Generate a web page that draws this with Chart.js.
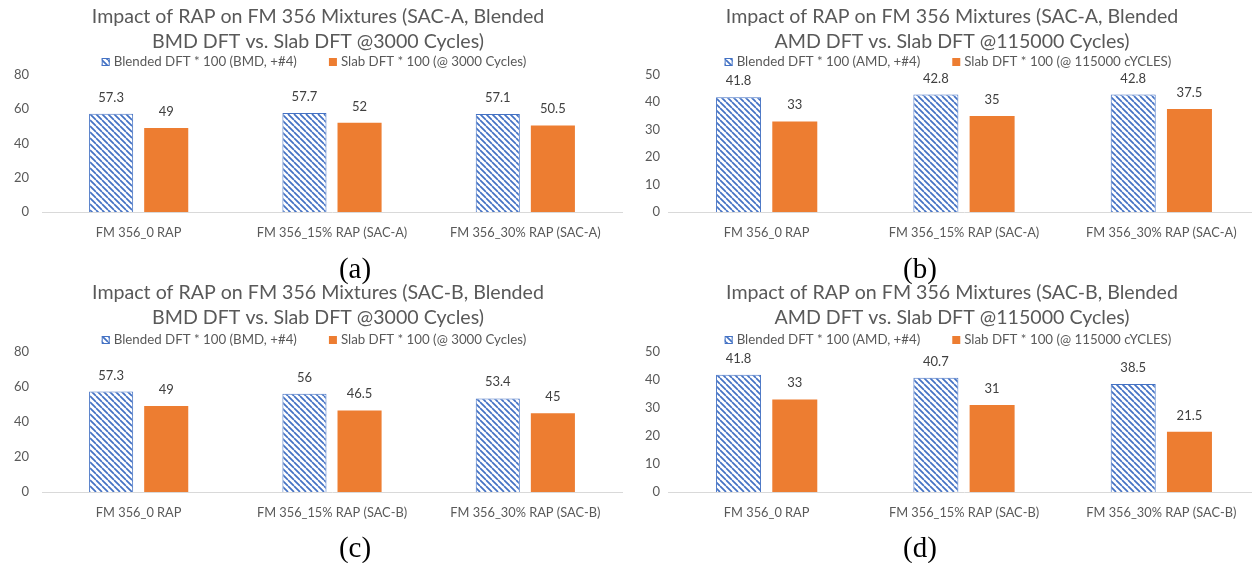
<!DOCTYPE html>
<html lang="en">
<head>
<meta charset="UTF-8">
<title>Impact of RAP on FM 356 Mixtures</title>
<script src="https://cdn.jsdelivr.net/npm/chart.js@4.4.0/dist/chart.umd.min.js"></script>
<style>
  html, body { margin: 0; padding: 0; background: #fff; overflow: hidden; }
  body { width: 1252px; height: 563px; position: relative; }
  canvas { position: absolute; }
  .caption {
    position: absolute;
    font-family: "Liberation Serif", "Times New Roman", serif;
    font-size: 29px;
    color: #000;
    transform: translate(-50%, -50%);
  }
</style>
</head>
<body>
<canvas id="chartA" width="640" height="245" style="left:0;top:0"></canvas>
<canvas id="chartB" width="640" height="245" style="left:630px;top:0"></canvas>
<canvas id="chartC" width="640" height="249" style="left:0;top:276px"></canvas>
<canvas id="chartD" width="640" height="249" style="left:630px;top:276px"></canvas>
<div class="caption" style="left:355px;top:268px">(a)</div>
<div class="caption" style="left:920px;top:268px">(b)</div>
<div class="caption" style="left:355px;top:547px">(c)</div>
<div class="caption" style="left:920px;top:547px">(d)</div>

<script>
    // mixtures on the x axis
    const categoriesA = ['FM 356_0 RAP', 'FM 356_15% RAP (SAC-A)', 'FM 356_30% RAP (SAC-A)'];
    const categoriesB = ['FM 356_0 RAP', 'FM 356_15% RAP (SAC-B)', 'FM 356_30% RAP (SAC-B)'];

    // DFT * 100 values
    const blendedA3000 = [57.3, 57.7, 57.1];
    const slabA3000 = [49, 52, 50.5];
    const blendedA115k = [41.8, 42.8, 42.8];
    const slabA115k = [33, 35, 37.5];
    const blendedB3000 = [57.3, 56, 53.4];
    const slabB3000 = [49, 46.5, 45];
    const blendedB115k = [41.8, 40.7, 38.5];
    const slabB115k = [33, 31, 21.5];

    const BLUE = '#4472C4';
    const ORANGE = '#ED7D31';
    const FONT = 'Lato';

    // white tile with "\" stripes for the blended series
    function hatch() {
        const s = 6;
        const c = document.createElement('canvas');
        c.width = s;
        c.height = s;
        const g = c.getContext('2d');
        g.fillStyle = '#fff';
        g.fillRect(0, 0, s, s);
        g.strokeStyle = BLUE;
        g.lineWidth = 1.7;
        g.beginPath();
        for (const o of [-s, 0, s]) {
            g.moveTo(o, 0);
            g.lineTo(o + s, s);
        }
        g.stroke();
        return g.createPattern(c, 'repeat');
    }

    // value printed above every bar
    const valueLabels = {
        id: 'valueLabels',
        afterDatasetsDraw(chart) {
            const ctx = chart.ctx;
            ctx.save();
            ctx.font = `13px ${FONT}`;
            ctx.fillStyle = '#404040';
            ctx.textAlign = 'center';
            ctx.textBaseline = 'alphabetic';
            chart.data.datasets.forEach((ds, i) => {
                chart.getDatasetMeta(i).data.forEach((bar, j) => {
                    ctx.fillText(String(ds.data[j]), bar.x, bar.y - 12);
                });
            });
            ctx.restore();
        }
    };

    // single-row legend between title and plot
    const legendRow = {
        id: 'legendRow',
        afterDraw(chart, args, opts) {
            const ctx = chart.ctx;
            const box = 8, gap = 4, spacing = 32;
            ctx.save();
            ctx.font = `13.3px ${FONT}`;
            ctx.textBaseline = 'middle';
            const items = chart.data.datasets;
            const widths = items.map(ds => box + gap + ctx.measureText(ds.label).width);
            let x = opts.cx - (widths.reduce((a, b) => a + b) + spacing * (items.length - 1)) / 2;
            items.forEach((ds, i) => {
                const top = opts.y - box / 2;
                ctx.fillStyle = ds.backgroundColor;
                ctx.fillRect(x, top, box, box);
                if (ds.borderWidth) {
                    ctx.strokeStyle = ds.borderColor;
                    ctx.lineWidth = 1;
                    ctx.strokeRect(x + 0.5, top + 0.5, box - 1, box - 1);
                }
                ctx.fillStyle = '#595959';
                ctx.fillText(ds.label, x + box + gap, opts.y);
                x += widths[i] + spacing;
            });
            ctx.restore();
        }
    };

    function makeChart(id, cfg) {
        return new Chart(document.getElementById(id), {
            type: 'bar',
            data: {
                labels: cfg.labels,
                datasets: [{
                    label: cfg.blendedLabel,
                    data: cfg.blended,
                    backgroundColor: hatch(),
                    borderColor: BLUE,
                    borderWidth: 1,
                    categoryPercentage: 0.57,
                    barPercentage: 0.8
                }, {
                    label: cfg.slabLabel,
                    data: cfg.slab,
                    backgroundColor: ORANGE,
                    borderWidth: 0,
                    categoryPercentage: 0.57,
                    barPercentage: 0.8
                }]
            },
            options: {
                responsive: false,
                animation: false,
                layout: { padding: { left: cfg.padLeft, right: cfg.padRight, top: 0, bottom: 0 } },
                plugins: {
                    legend: { display: false },
                    tooltip: { enabled: false },
                    title: {
                        display: true,
                        text: cfg.title,
                        color: '#595959',
                        font: { family: FONT, size: 19.6, weight: 'normal', lineHeight: 1.27 },
                        padding: { top: 4, bottom: cfg.titleBottom }
                    },
                    legendRow: { y: cfg.legendY, cx: cfg.legendX }
                },
                scales: {
                    x: {
                        grid: { display: false, drawTicks: false },
                        border: { display: true, color: '#D9D9D9', width: 1 },
                        ticks: { color: '#595959', font: { family: FONT, size: 12.8 }, padding: 13, maxRotation: 0 },
                        afterFit(scale) { scale.height = 33; }
                    },
                    y: {
                        min: 0,
                        max: cfg.max,
                        grid: { display: false, drawTicks: false },
                        border: { display: false },
                        ticks: { stepSize: cfg.step, color: '#595959', font: { family: FONT, size: 13 }, padding: cfg.tickPad },
                        afterFit(scale) { scale.width = cfg.yWidth; }
                    }
                }
            },
            plugins: [valueLabels, legendRow]
        });
    }

    const leftPanel = { padLeft: 14, padRight: 18, yWidth: 28, tickPad: 13, legendX: 314 };
    const rightPanel = { padLeft: 14, padRight: 10, yWidth: 24, tickPad: 8, legendX: 318 };

    makeChart('chartA', Object.assign({
        labels: categoriesA, blended: blendedA3000, slab: slabA3000,
        title: ['Impact of RAP on FM 356 Mixtures (SAC-A, Blended', 'BMD DFT vs. Slab DFT @3000 Cycles)'],
        blendedLabel: 'Blended DFT * 100 (BMD, +#4)', slabLabel: 'Slab DFT * 100 (@ 3000 Cycles)',
        max: 80, step: 20, titleBottom: 21, legendY: 62
    }, leftPanel));
    makeChart('chartB', Object.assign({
        labels: categoriesA, blended: blendedA115k, slab: slabA115k,
        title: ['Impact of RAP on FM 356 Mixtures (SAC-A, Blended', 'AMD DFT vs. Slab DFT @115000 Cycles)'],
        blendedLabel: 'Blended DFT * 100 (AMD, +#4)', slabLabel: 'Slab DFT * 100 (@ 115000 cYCLES)',
        max: 50, step: 10, titleBottom: 21, legendY: 62
    }, rightPanel));
    makeChart('chartC', Object.assign({
        labels: categoriesB, blended: blendedB3000, slab: slabB3000,
        title: ['Impact of RAP on FM 356 Mixtures (SAC-B, Blended', 'BMD DFT vs. Slab DFT @3000 Cycles)'],
        blendedLabel: 'Blended DFT * 100 (BMD, +#4)', slabLabel: 'Slab DFT * 100 (@ 3000 Cycles)',
        max: 80, step: 20, titleBottom: 22, legendY: 64
    }, leftPanel));
    makeChart('chartD', Object.assign({
        labels: categoriesB, blended: blendedB115k, slab: slabB115k,
        title: ['Impact of RAP on FM 356 Mixtures (SAC-B, Blended', 'AMD DFT vs. Slab DFT @115000 Cycles)'],
        blendedLabel: 'Blended DFT * 100 (AMD, +#4)', slabLabel: 'Slab DFT * 100 (@ 115000 cYCLES)',
        max: 50, step: 10, titleBottom: 22, legendY: 64
    }, rightPanel));
</script>
</body>
</html>
